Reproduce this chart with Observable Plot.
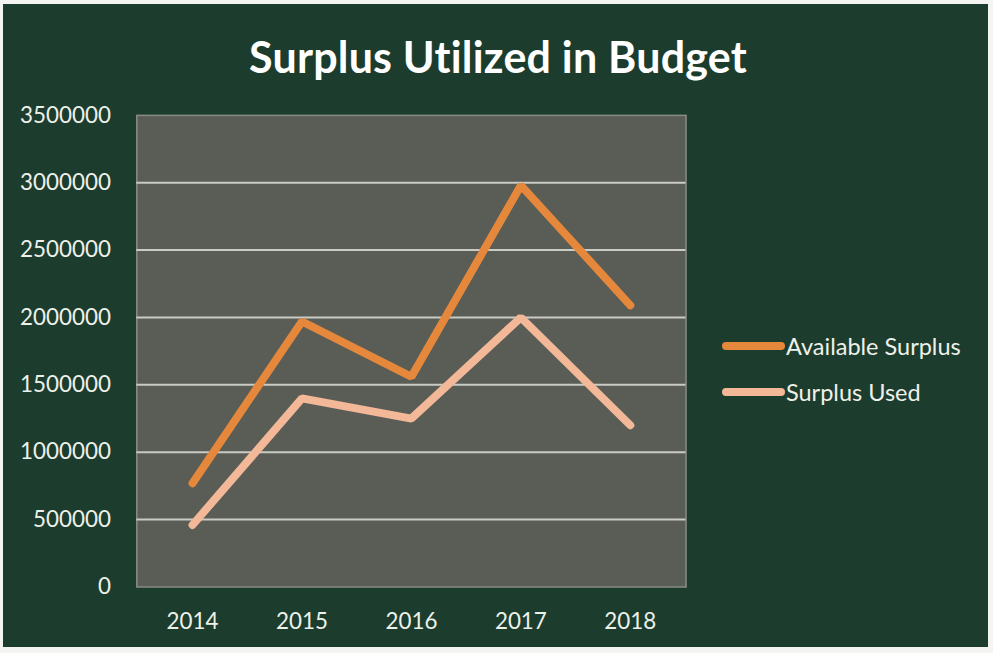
<!DOCTYPE html>
<html>
<head>
<meta charset="utf-8">
<script src="https://cdn.jsdelivr.net/npm/d3@7"></script>
<script src="https://cdn.jsdelivr.net/npm/@observablehq/plot@0.6"></script>
<style>
  html, body { margin: 0; padding: 0; background: #f4f4f2; width: 993px; height: 653px; overflow: hidden; }
  #card { position: absolute; left: 3px; top: 4px; width: 985px; height: 643px; background: #1c3d2d; font-family: Lato, "Open Sans", sans-serif; }
  #title { position: absolute; left: 0; width: 990px; top: 27px; text-align: center; color: #ffffff; font-size: 43px; font-weight: bold; letter-spacing: 0.2px; }
  #chart { position: absolute; left: -3px; top: 86px; }
  #legend { position: absolute; left: 719px; top: 319px; color: #f0f0ea; font-size: 23.5px; }
  .item { display: flex; align-items: center; height: 46px; }
  .swatch { width: 63px; height: 8px; border-radius: 4px; margin-right: 1px; }
</style>
</head>
<body>
<div id="card">
  <div id="title">Surplus Utilized in Budget</div>
  <div id="chart"></div>
  <div id="legend"></div>
</div>
<script>
const years = ["2014", "2015", "2016", "2017", "2018"];
const availableSurplus = [770000, 1970000, 1560000, 2980000, 2090000];
const surplusUsed = [460000, 1400000, 1250000, 2000000, 1200000];
const seriesNames = ["Available Surplus", "Surplus Used"];
const seriesColors = ["#e5883c", "#f2b898"];
const yTicks = [0, 500000, 1000000, 1500000, 2000000, 2500000, 3000000, 3500000];

const rows = [];
years.forEach((y, i) => {
  rows.push({year: y, value: availableSurplus[i], series: seriesNames[0]});
  rows.push({year: y, value: surplusUsed[i], series: seriesNames[1]});
});

const plot = Plot.plot({
  width: 993,
  height: 563,
  marginLeft: 137,
  marginRight: 304,
  marginTop: 25,
  marginBottom: 64,
  style: {background: "transparent", fontFamily: "Lato, 'Open Sans', sans-serif"},
  x: {type: "band", domain: years, padding: 0, label: null},
  y: {domain: [0, 3500000], ticks: yTicks, label: null},
  color: {domain: seriesNames, range: seriesColors},
  marks: [
    Plot.frame({fill: "#5a5d56", stroke: "#8a8d86", strokeWidth: 1.5}),
    Plot.gridY(yTicks.filter(d => d > 0 && d < 3500000), {stroke: "#c9cbc4", strokeOpacity: 1, strokeWidth: 2}),
    Plot.axisY(yTicks, {tickSize: 0, tickPadding: 26, fontSize: 22.5, fill: "#eef0ea", tickFormat: d => String(d), label: null}),
    Plot.axisX({tickSize: 0, tickPadding: 26, fontSize: 22.5, fill: "#eef0ea", label: null}),
    Plot.line(rows, {x: "year", y: "value", z: "series", stroke: "series", strokeWidth: 8, strokeLinejoin: "miter", strokeLinecap: "round"})
  ]
});
document.getElementById("chart").appendChild(plot);

const legend = document.getElementById("legend");
seriesNames.forEach((name, i) => {
  const item = document.createElement("div");
  item.className = "item";
  const sw = document.createElement("div");
  sw.className = "swatch";
  sw.style.background = seriesColors[i];
  const label = document.createElement("span");
  label.textContent = name;
  item.appendChild(sw);
  item.appendChild(label);
  legend.appendChild(item);
});
</script>
</body>
</html>
